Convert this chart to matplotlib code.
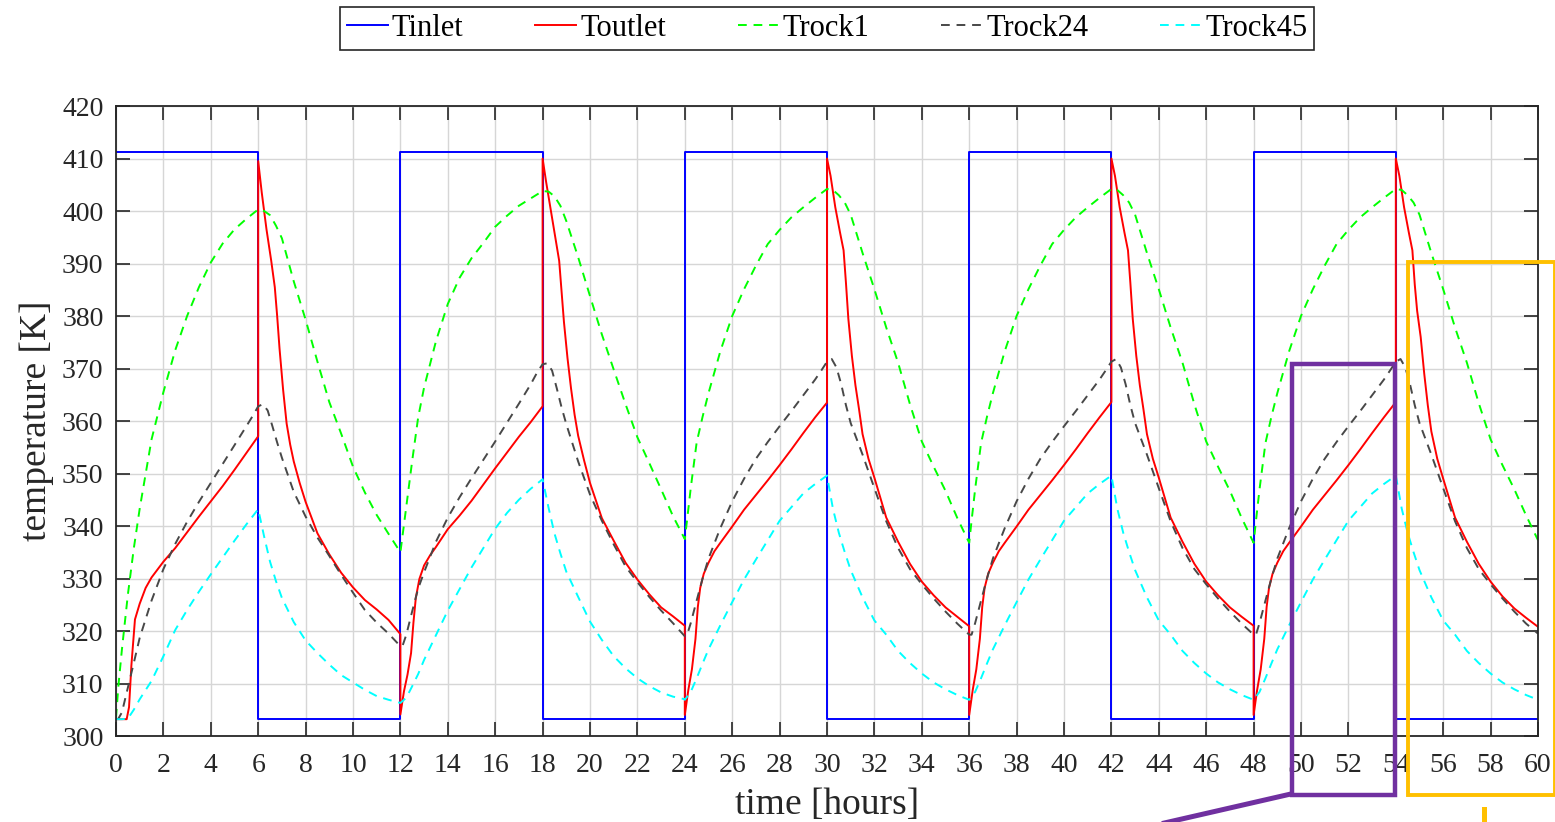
import matplotlib
matplotlib.use('Agg')
import matplotlib.pyplot as plt
from matplotlib.patches import Rectangle
import numpy as np

plt.rcParams['font.family'] = ['Liberation Serif', 'DejaVu Serif']

# --- data, one list per 12 h cycle ---
cycle_len = 12

# inlet temperature: step signal
tin_t = [0, 6, 6, 12, 12, 18, 18, 24, 24, 30, 30, 36, 36, 42, 42, 48, 48, 54, 54, 60]
tin_v = [411.2, 411.2, 303.2, 303.2, 411.2, 411.2, 303.2, 303.2, 411.2, 411.2,
         303.2, 303.2, 411.2, 411.2, 303.2, 303.2, 411.2, 411.2, 303.2, 303.2]

# outlet temperature
red_t = [0, 0.15, 0.3, 0.45, 0.55, 0.65, 0.8, 1.0, 1.25, 1.5, 2, 2.5, 3, 3.5, 4, 4.5, 5, 5.5, 6, 6,
         6.15, 6.35, 6.55, 6.7, 6.8, 6.9, 7.05, 7.2, 7.35, 7.5, 7.75, 8, 8.5, 9, 9.5, 10, 10.5, 11, 11.5, 12]
red_c1 = [303.2, 303.2, 303.2, 303.2, 305.5, 313.5, 322.2, 325.2, 328.2, 330.2, 333.2, 335.8, 338.8, 341.8,
          344.7, 347.6, 350.7, 353.9, 357.1, 409.5, 403.5, 396.5, 390.5, 385.5, 380.0, 373.8, 366.0, 359.5,
          355.5, 352.3, 348.2, 344.6, 338.6, 334.6, 331.1, 328.3, 325.9, 324.1, 322.1, 319.4]
red_c2 = [304.1, 308.5, 311.7, 315.8, 321.6, 326.3, 329.9, 332.5, 334.4, 336.0, 339.4, 342.0, 344.8, 347.9,
          351.0, 354.0, 357.0, 359.8, 362.8, 410.0, 405.5, 400.0, 394.5, 390.5, 384.8, 378.9, 372.0, 366.2,
          361.2, 357.2, 352.5, 348.2, 341.5, 337.2, 333.0, 329.8, 327.0, 324.5, 322.8, 321.0]
red_c3 = [304.0, 308.8, 312.7, 318.5, 324.6, 328.2, 330.9, 333.0, 335.2, 336.8, 339.9, 343.1, 345.9, 348.7,
          351.6, 354.6, 357.7, 360.7, 363.5, 410.0, 406.7, 400.7, 395.9, 392.5, 386.3, 379.5, 372.4, 366.8,
          362.3, 357.5, 352.8, 349.2, 341.6, 337.0, 332.8, 329.4, 326.8, 324.5, 322.7, 320.9]
red_c4 = [304.0, 308.8, 312.7, 318.5, 324.6, 328.2, 330.9, 333.0, 335.2, 336.8, 339.9, 343.1, 345.9, 348.7,
          351.6, 354.6, 357.7, 360.7, 363.6, 410.0, 406.7, 400.7, 395.9, 392.5, 386.3, 379.5, 372.4, 366.8,
          362.3, 357.5, 352.8, 349.2, 341.6, 337.0, 332.8, 329.4, 326.8, 324.5, 322.7, 321.0]
red_c5 = [304.0, 308.8, 312.7, 318.5, 324.6, 328.2, 330.9, 333.0, 335.2, 336.8, 339.9, 343.1, 345.9, 348.7,
          351.6, 354.6, 357.7, 360.7, 363.6, 410.0, 406.7, 400.7, 395.9, 392.5, 386.0, 381.0, 376.0, 369.0,
          363.0, 358.0, 352.8, 349.0, 341.6, 337.0, 332.8, 329.4, 326.6, 324.3, 322.5, 320.8]

# rock temperature, node 1
green_t = [0, 0.1, 0.25, 0.5, 0.75, 1, 1.5, 2, 2.5, 3, 3.5, 4, 4.5, 5, 5.5, 6, 6.25, 6.5, 6.75, 7,
           7.5, 8, 8.5, 9, 9.5, 10, 10.5, 11, 11.5, 12]
green_c1 = [303.5, 309.5, 316.5, 326.9, 335.7, 343.3, 356.5, 365.5, 373.5, 380.0, 385.5, 390.2, 393.8, 396.5,
            398.5, 400.3, 400.0, 399.2, 397.2, 394.8, 386.6, 379.3, 371.3, 363.6, 357.6, 351.3, 346.4, 342.1,
            338.5, 335.0]
green_c2 = [335.0, 338.5, 343.9, 352.5, 360.7, 366.4, 375.2, 382.3, 387.3, 391.0, 393.9, 397.0, 399.1, 401.0,
            402.4, 403.8, 403.7, 402.8, 401.0, 398.1, 391.2, 383.8, 376.5, 369.8, 363.2, 356.9, 352.0, 347.0,
            341.9, 337.5]
green_c3 = [337.5, 341.3, 347.2, 355.9, 360.8, 365.3, 373.3, 380.0, 385.1, 389.6, 393.7, 396.4, 398.8, 400.7,
            402.5, 404.2, 404.0, 403.0, 401.6, 399.3, 392.0, 385.1, 377.8, 371.1, 363.2, 356.1, 351.3, 346.7,
            341.5, 336.8]
green_c4 = [336.8, 341.0, 347.0, 355.8, 360.8, 365.3, 373.3, 380.0, 385.1, 389.6, 393.7, 396.4, 398.8, 400.7,
            402.5, 404.2, 404.0, 403.0, 401.6, 399.3, 392.0, 385.1, 377.8, 371.1, 363.2, 356.1, 351.3, 346.7,
            341.5, 336.8]
green_c5 = [336.8, 341.0, 347.0, 355.8, 360.8, 365.3, 373.3, 380.0, 385.1, 389.6, 393.7, 396.4, 398.8, 400.7,
            402.5, 404.2, 404.0, 403.0, 401.6, 399.3, 392.0, 385.1, 377.8, 371.1, 363.4, 356.5, 351.6, 347.0,
            342.0, 337.3]

# rock temperature, node 24
black_t = [0, 0.1, 0.25, 0.5, 0.75, 1, 1.5, 2, 2.5, 3, 3.5, 4, 4.5, 5, 5.5, 5.8, 6, 6.2, 6.4, 6.6,
           6.8, 7, 7.5, 8, 8.5, 9, 9.5, 10, 10.5, 11, 11.5, 12]
black_c1 = [303.2, 303.3, 304.5, 309.2, 313.9, 318.7, 325.8, 331.8, 336.6, 340.8, 344.6, 348.2, 351.8, 355.4,
            359.0, 361.2, 362.8, 363.2, 362.0, 359.0, 355.9, 353.0, 346.5, 341.8, 337.8, 334.3, 330.7, 327.3,
            324.0, 321.6, 319.5, 317.1]
black_c2 = [317.1, 317.3, 319.3, 323.8, 328.1, 331.2, 337.0, 341.6, 345.5, 349.1, 352.6, 356.1, 359.7, 363.3,
            367.0, 369.5, 370.8, 371.0, 369.6, 366.2, 362.6, 359.4, 352.3, 346.0, 341.0, 336.5, 332.3, 329.3,
            326.5, 323.9, 321.5, 319.0]
black_c3 = [319.0, 319.3, 321.5, 325.8, 330.0, 333.8, 339.6, 344.7, 349.0, 352.8, 356.0, 359.0, 361.9, 364.9,
            367.9, 369.9, 371.3, 371.8, 370.2, 367.0, 363.0, 359.6, 353.6, 347.2, 340.9, 335.8, 331.8, 328.9,
            326.2, 323.7, 321.4, 319.3]
black_c4 = [319.3, 319.3, 321.5, 325.8, 330.0, 333.8, 339.6, 344.7, 349.0, 352.8, 356.0, 359.0, 361.9, 364.9,
            367.9, 369.9, 371.3, 371.8, 370.2, 367.0, 363.0, 359.6, 353.6, 347.2, 340.9, 335.8, 331.8, 328.9,
            326.2, 323.7, 321.4, 319.3]
black_c5 = [319.3, 319.3, 321.5, 325.8, 330.0, 333.8, 339.6, 344.7, 349.0, 352.8, 356.0, 359.0, 361.9, 364.9,
            367.9, 369.9, 371.3, 371.8, 370.2, 367.0, 363.0, 359.6, 353.6, 347.2, 340.9, 335.8, 331.8, 328.9,
            326.2, 323.7, 321.4, 319.5]

# rock temperature, node 45
cyan_t = [0, 0.25, 0.5, 0.75, 1, 1.5, 2, 2.5, 3, 3.5, 4, 4.5, 5, 5.5, 6, 6.25, 6.5, 6.75, 7, 7.5,
          8, 8.5, 9, 9.5, 10, 10.5, 11, 11.5, 12]
cyan_c1 = [303.2, 303.2, 303.3, 305.0, 307.0, 310.5, 315.2, 320.2, 324.0, 327.5, 330.8, 334.0, 337.2, 340.3,
           343.2, 338.0, 333.2, 329.5, 326.3, 321.7, 318.2, 315.8, 313.6, 311.6, 310.2, 308.8, 307.6, 306.9, 306.3]
cyan_c2 = [306.3, 307.3, 309.5, 311.8, 314.5, 319.2, 323.9, 328.0, 332.1, 335.8, 339.5, 342.5, 345.0, 347.1,
           348.9, 343.5, 338.6, 334.8, 331.3, 326.5, 321.8, 318.3, 315.2, 312.9, 311.0, 309.5, 308.3, 307.5, 307.0]
cyan_c3 = [306.9, 308.4, 311.0, 313.8, 316.5, 321.1, 325.5, 329.8, 333.6, 337.3, 341.0, 343.6, 346.2, 348.0,
           349.6, 343.3, 338.7, 335.0, 331.6, 326.4, 322.0, 319.3, 316.2, 313.9, 311.9, 310.2, 308.9, 307.8, 306.9]
cyan_c4 = [306.9, 308.4, 311.0, 313.8, 316.5, 321.1, 325.5, 329.8, 333.6, 337.3, 341.0, 343.6, 346.2, 348.0,
           349.6, 343.3, 338.7, 335.0, 331.6, 326.4, 322.0, 319.3, 316.2, 313.9, 311.9, 310.2, 308.9, 307.8, 306.9]
cyan_c5 = [306.9, 308.4, 311.0, 313.8, 316.5, 321.1, 325.5, 329.8, 333.6, 337.3, 341.0, 343.6, 346.2, 348.0,
           349.6, 343.3, 338.7, 335.0, 331.6, 326.4, 322.0, 319.3, 316.2, 313.9, 311.9, 310.2, 308.9, 307.8, 306.9]

# highlighted regions (hours, K)
purple_box = (49.62, 53.97, 288.8, 370.9)
orange_box = (54.51, 60.72, 288.8, 390.3)


def join_cycles(t_cycle, cycles):
    t = np.concatenate([np.array(t_cycle) + cycle_len * k for k in range(len(cycles))])
    v = np.concatenate([np.array(c) for c in cycles])
    return t, v


def main():
    fig = plt.figure(figsize=(15.55, 8.22), dpi=100)
    ax = fig.add_axes([116 / 1555, 1 - 736 / 822, (1538 - 116) / 1555, (736 - 106) / 822])

    t, v = join_cycles(red_t, [red_c1, red_c2, red_c3, red_c4, red_c5])
    ax.plot(tin_t, tin_v, color='#0000ff', lw=1.4, label='Tinlet')
    ax.plot(t, v, color='#ff0000', lw=1.4, label='Toutlet')
    t, v = join_cycles(green_t, [green_c1, green_c2, green_c3, green_c4, green_c5])
    ax.plot(t, v, color='#00ff00', lw=1.4, dashes=(4.5, 3.5), label='Trock1')
    t, v = join_cycles(black_t, [black_c1, black_c2, black_c3, black_c4, black_c5])
    ax.plot(t, v, color='#484848', lw=1.4, dashes=(4.5, 3.5), label='Trock24')
    t, v = join_cycles(cyan_t, [cyan_c1, cyan_c2, cyan_c3, cyan_c4, cyan_c5])
    ax.plot(t, v, color='#00ffff', lw=1.4, dashes=(4.5, 3.5), label='Trock45')

    ax.set_xlim(0, 60)
    ax.set_ylim(300, 420)
    ax.set_xticks(range(0, 61, 2))
    ax.set_yticks(range(300, 421, 10))
    ax.grid(True, color='#d6d6d6', lw=1.0)
    ax.set_axisbelow(True)
    for s in ax.spines.values():
        s.set_color('#262626')
        s.set_linewidth(1.3)
    ax.tick_params(direction='in', length=10, width=1.2, top=True, right=True,
                   colors='#262626', labelsize=20)
    ax.tick_params(axis='x', pad=12)
    ax.tick_params(axis='y', pad=9)
    ax.set_xlabel('time [hours]', fontsize=27, color='#262626', labelpad=7)
    ax.set_ylabel('temperature [K]', fontsize=27, color='#262626', labelpad=6)

    leg = fig.legend(loc='center', bbox_to_anchor=(827 / 1555, 1 - 28.5 / 822), ncol=5,
                     fontsize=22, frameon=True, fancybox=False, edgecolor='#262626',
                     framealpha=1, handlelength=1.35, handletextpad=0.12, columnspacing=2.35,
                     borderpad=0.22)
    leg.get_frame().set_linewidth(1.2)

    # highlight boxes and their leader lines
    x0, x1, y0, y1 = purple_box
    ax.add_patch(Rectangle((x0, y0), x1 - x0, y1 - y0, fill=False, ec='#7030a0', lw=3.2, clip_on=False, zorder=5))
    ax.plot([x0 - 0.1, 41.5], [y0 + 0.1, 280.6], color='#7030a0', lw=3.6, clip_on=False, zorder=5)
    x0, x1, y0, y1 = orange_box
    ax.add_patch(Rectangle((x0, y0), x1 - x0, y1 - y0, fill=False, ec='#ffc000', lw=2.8, clip_on=False, zorder=5))
    ax.plot([57.72, 57.72], [286.1, 281.0], color='#ffc000', lw=3.6, clip_on=False, zorder=5)

    plt.savefig('out.png', dpi=100)
    plt.clf()


if __name__ == "__main__":
    main()
